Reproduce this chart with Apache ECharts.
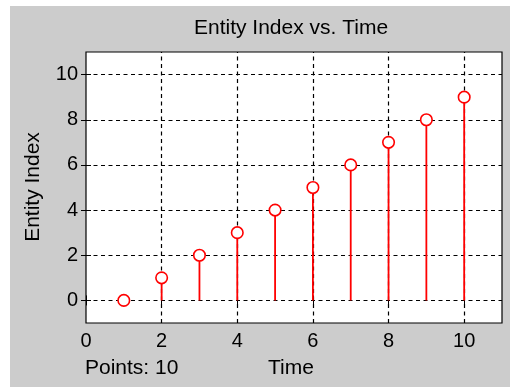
<!DOCTYPE html>
<html>
<head>
<meta charset="utf-8">
<script src="https://cdn.jsdelivr.net/npm/echarts@6/dist/echarts.min.js"></script>
<style>
  html, body { margin: 0; padding: 0; background: #ffffff; }
  #chart { width: 510px; height: 387px; }
</style>
</head>
<body>
<div id="chart"></div>
<script>
// Stem data: entity index at each time step
const timeValues = [1, 2, 3, 4, 5, 6, 7, 8, 9, 10];
const entityIndex = [0, 1, 2, 3, 4, 5, 6, 7, 8, 9];

// Tick positions and axis ranges
const xTicks = [0, 2, 4, 6, 8, 10];
const yTicks = [0, 2, 4, 6, 8, 10];
const xRange = [0, 11];
const yRange = [-1, 11];

const titleText = 'Entity Index vs. Time';
const xLabel = 'Time';
const yLabel = 'Entity Index';
const footnote = 'Points: ' + timeValues.length;

const FONT = "'Liberation Sans', Arial, sans-serif";
const TEXT = '#000000';
const RED = '#ff0000';

const chart = echarts.init(document.getElementById('chart'), null, { renderer: 'canvas' });

const stemData = timeValues.map((t, i) => [t, entityIndex[i]]);

// Dashed grid lines at the tick positions
const gridMarks = []
  .concat(xTicks.filter(v => v > xRange[0]).map(v => ({ xAxis: v })))
  .concat(yTicks.map(v => ({ yAxis: v })));

const tickAxisCommon = {
  type: 'value',
  splitLine: { show: false },
  axisLine: { show: false },
  axisTick: { show: true, inside: true, length: 5, lineStyle: { color: '#000', width: 1 } }
};

chart.setOption({
  animation: false,
  backgroundColor: 'transparent',
  graphic: [
    { type: 'rect', z: -10, silent: true,
      shape: { x: 10, y: 6, width: 500, height: 381 },
      style: { fill: '#cccccc' } },
    { type: 'text', x: 291, y: 28, silent: true,
      style: { text: titleText, font: '21px ' + FONT, fill: TEXT, align: 'center', verticalAlign: 'middle' } },
    { type: 'text', x: 291, y: 368, silent: true,
      style: { text: xLabel, font: '21px ' + FONT, fill: TEXT, align: 'center', verticalAlign: 'middle' } },
    { type: 'text', x: 85, y: 368, silent: true,
      style: { text: footnote, font: '21px ' + FONT, fill: TEXT, align: 'left', verticalAlign: 'middle' } },
    { type: 'text', x: 33, y: 187, rotation: Math.PI / 2, silent: true,
      style: { text: yLabel, font: '21px ' + FONT, fill: TEXT, align: 'center', verticalAlign: 'middle' } }
  ],
  grid: {
    left: 86, top: 52, right: 8, bottom: 64,
    show: true, backgroundColor: '#ffffff', borderColor: '#000000', borderWidth: 1.2
  },
  xAxis: [
    Object.assign({}, tickAxisCommon, {
      position: 'bottom', min: xRange[0], max: xRange[1],
      axisTick: Object.assign({}, tickAxisCommon.axisTick, { customValues: xTicks }),
      axisLabel: { customValues: xTicks, margin: 8, color: TEXT, fontSize: 20, fontFamily: FONT }
    }),
    Object.assign({}, tickAxisCommon, {
      position: 'top', min: xRange[0], max: xRange[1],
      axisTick: Object.assign({}, tickAxisCommon.axisTick, { customValues: xTicks }),
      axisLabel: { show: false }
    })
  ],
  yAxis: [
    Object.assign({}, tickAxisCommon, {
      position: 'left', min: yRange[0], max: yRange[1],
      axisTick: Object.assign({}, tickAxisCommon.axisTick, { customValues: yTicks }),
      axisLabel: { customValues: yTicks, margin: 8, color: TEXT, fontSize: 20, fontFamily: FONT }
    }),
    Object.assign({}, tickAxisCommon, {
      position: 'right', min: yRange[0], max: yRange[1],
      axisTick: Object.assign({}, tickAxisCommon.axisTick, { customValues: yTicks }),
      axisLabel: { show: false }
    })
  ],
  series: [
    {
      name: 'grid',
      type: 'line',
      data: [],
      z: 1,
      silent: true,
      markLine: {
        silent: true,
        z: 1,
        symbol: ['none', 'none'],
        label: { show: false },
        lineStyle: { color: '#000000', width: 1.2, type: [4, 3.5] },
        data: gridMarks
      }
    },
    {
      name: 'stems',
      type: 'custom',
      z: 8,
      silent: true,
      data: stemData,
      renderItem: function (params, api) {
        const top = api.coord([api.value(0), api.value(1)]);
        const base = api.coord([api.value(0), 0]);
        return {
          type: 'line',
          shape: { x1: base[0], y1: base[1], x2: top[0], y2: top[1] },
          style: { stroke: RED, lineWidth: 1.8 }
        };
      }
    },
    {
      name: 'markers',
      type: 'scatter',
      z: 9,
      data: stemData,
      symbol: 'circle',
      symbolSize: 11.5,
      itemStyle: { color: '#ffffff', borderColor: RED, borderWidth: 1.6, opacity: 1 }
    }
  ]
});
</script>
</body>
</html>
